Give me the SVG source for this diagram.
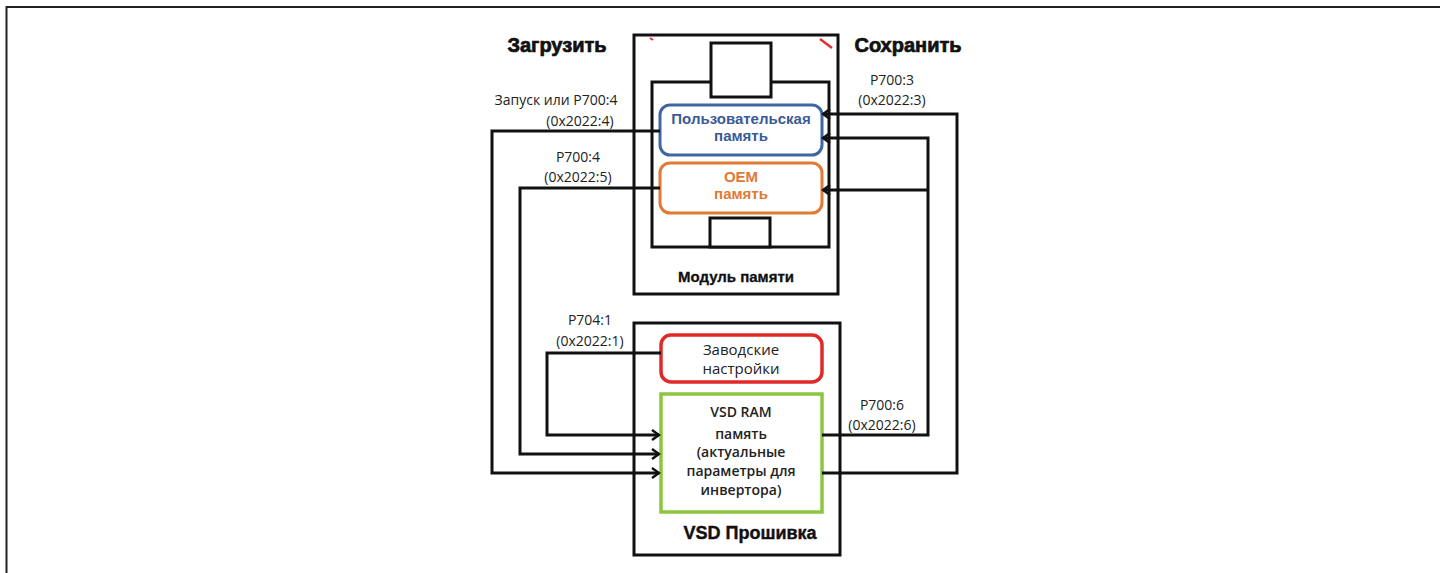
<svg xmlns="http://www.w3.org/2000/svg" width="1440" height="573" viewBox="0 0 1440 573">
<defs>
<style>
.ln{fill:none;stroke:#111;stroke-width:3}
.box{fill:#fff;stroke:#111;stroke-width:3}
.lbl{font-family:"Open Sans","Liberation Sans",sans-serif;font-size:14px;fill:#222;text-anchor:middle}
.ttl{font-family:"Liberation Sans",Arial,sans-serif;font-weight:bold;font-size:20px;fill:#111;stroke:#111;stroke-width:0.7;text-anchor:middle}
.sub{font-family:"Liberation Sans",Arial,sans-serif;font-weight:bold;font-size:15px;fill:#111;stroke:#111;stroke-width:0.3;text-anchor:middle}
.in{font-family:"Open Sans","Liberation Sans",sans-serif;font-weight:600;font-size:14px;fill:#222;text-anchor:middle}
.mem{font-family:"Liberation Sans",Arial,sans-serif;font-weight:bold;font-size:15px;text-anchor:middle}
</style>
<marker id="chev" viewBox="0 0 12 12" refX="10" refY="6" markerWidth="12" markerHeight="12" markerUnits="userSpaceOnUse" orient="auto">
<path d="M3,1 L10,6 L3,11" fill="none" stroke="#111" stroke-width="2.5"/>
</marker>
</defs>
<rect width="1440" height="573" fill="#fff"/>
<path d="M6.5,573 V7 H1440" fill="none" stroke="#222" stroke-width="2"/>

<g id="module">
<rect class="box" x="634" y="35" width="204" height="259"/>
<rect class="box" x="652" y="82" width="177" height="165"/>
<rect class="box" x="711" y="43" width="60" height="54"/>
<rect class="box" x="710" y="218" width="60" height="29"/>
<path d="M650,38 l3,2" stroke="#e03030" stroke-width="2"/>
<path d="M820,39 l12,9" stroke="#e03030" stroke-width="2.5"/>
<text class="sub" x="736" y="282">Модуль памяти</text>
</g>

<g id="user-mem">
<rect x="660" y="105" width="162" height="50" rx="10" fill="#fff" stroke="#3f66a3" stroke-width="3"/>
<text class="mem" x="741" y="124" fill="#3a5a98">Пользовательская</text>
<text class="mem" x="741" y="141" fill="#3a5a98">память</text>
</g>

<g id="oem-mem">
<rect x="660" y="163" width="162" height="50" rx="10" fill="#fff" stroke="#e07a34" stroke-width="3"/>
<text class="mem" x="741" y="182" fill="#e07a34">OEM</text>
<text class="mem" x="741" y="199" fill="#e07a34">память</text>
</g>

<g id="firmware">
<rect class="box" x="634" y="323" width="206" height="232"/>
<text x="750" y="539" font-family="Liberation Sans,Arial,sans-serif" font-weight="bold" font-size="18" fill="#111" stroke="#111" stroke-width="0.4" text-anchor="middle">VSD Прошивка</text>
</g>

<g id="factory">
<rect x="661" y="335" width="161" height="47" rx="10" fill="#fff" stroke="#e02a2a" stroke-width="3.5"/>
<text x="741" y="355" font-family="Open Sans,Liberation Sans,sans-serif" font-size="15" fill="#222" text-anchor="middle">Заводские</text>
<text x="741" y="374" font-family="Open Sans,Liberation Sans,sans-serif" font-size="15" fill="#222" text-anchor="middle">настройки</text>
</g>

<g id="vsd-ram">
<rect x="661" y="394" width="161" height="118" fill="#fff" stroke="#8cc63f" stroke-width="3.5"/>
<text class="in" x="741" y="417" font-size="16">VSD RAM</text>
<text class="in" x="741" y="439">память</text>
<text class="in" x="741" y="457">(актуальные</text>
<text class="in" x="741" y="476">параметры для</text>
<text class="in" x="741" y="495">инвертора)</text>
</g>

<g id="connectors">
<path class="ln" d="M660,131 H492 V473 H659" marker-end="url(#chev)"/>
<path class="ln" d="M660,188 H520 V454 H659" marker-end="url(#chev)"/>
<path class="ln" d="M661,353 H547 V435 H659" marker-end="url(#chev)"/>
<path class="ln" d="M822,435 H928 V138 H823" marker-end="url(#chev)"/>
<path class="ln" d="M928,190 H823" marker-end="url(#chev)"/>
<path class="ln" d="M822,473 H957 V114 H823" marker-end="url(#chev)"/>
</g>

<g id="labels">
<text class="ttl" x="557" y="52">Загрузить</text>
<text class="ttl" x="908" y="52">Сохранить</text>
<text class="lbl" x="556" y="105">Запуск или P700:4</text>
<text class="lbl" x="580" y="126">(0x2022:4)</text>
<text class="lbl" x="578" y="162">P700:4</text>
<text class="lbl" x="578" y="182">(0x2022:5)</text>
<text class="lbl" x="892" y="85">P700:3</text>
<text class="lbl" x="892" y="105">(0x2022:3)</text>
<text class="lbl" x="590" y="325">P704:1</text>
<text class="lbl" x="590" y="346">(0x2022:1)</text>
<text class="lbl" x="882" y="410">P700:6</text>
<text class="lbl" x="882" y="430">(0x2022:6)</text>
</g>
</svg>
